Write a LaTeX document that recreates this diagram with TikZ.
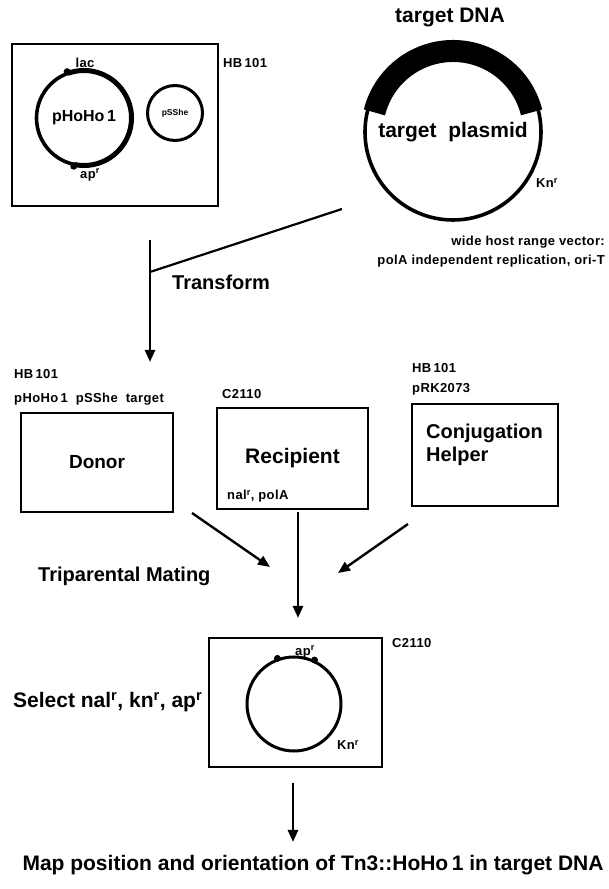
\documentclass[tikz,border=0pt]{standalone}
\usepackage{fontspec}
\setmainfont{Liberation Sans}
\usetikzlibrary{arrows.meta}

\newcommand{\fs}[1]{\fontsize{#1}{#1}\selectfont\bfseries}
\newcommand{\sm}{\fontsize{13}{13}\selectfont\bfseries\addfontfeatures{LetterSpace=3}}
\newcommand{\rs}{\textsuperscript{r}}

\begin{document}
\begin{tikzpicture}[x=1pt, y=1pt,
  hostbox/.style={draw, line width=2.6pt, inner sep=0pt},
  plasmid/.style={draw, circle, line width=3pt, inner sep=0pt},
  marker/.style={circle, fill, inner sep=0pt, minimum size=7pt},
  lbl/.style={inner sep=0pt, font=\sm},
  flow/.style={line width=2.4pt, -{Triangle[length=12pt,width=10pt]}}]
\useasboundingbox (0,0) rectangle (609,889);

% host cell with pHoHo1 and pSShe
\node (hosta) [hostbox, minimum width=206, minimum height=162] at (115,764) {};
\node (hostalbl) [lbl, anchor=west] at (223,826) {HB\,101};
\node (pho) [plasmid, line width=3.6pt, minimum size=95] at (84,771) {\fs{16}pHoHo\,1};
\draw [line width=5pt] ([shift={(-102:47.5)}]pho.center) arc [start angle=-102, end angle=110, radius=47.5];
\node (lacdot) [marker] at (pho.110) {};
\node (apdot) [marker] at (pho.-102) {};
\node (lac) [lbl] at (85,826) {lac};
\node (ap) [lbl] at (90,714) {ap\rs};
\node (pss) [plasmid, minimum size=55] at (175,776) {\fs{8.5}pSShe};

% target plasmid
\node (tp) [plasmid, line width=3.6pt, minimum size=176] at (453,757) {\fs{21}target\ \ plasmid};
\draw [line width=22pt] ([shift={(14:81)}]tp.center) arc [start angle=14, end angle=166, radius=81];
\node (tdna) [lbl, font=\fs{21}] at (450,871) {target DNA};
\node (kn) [lbl, anchor=west] at (536,706) {Kn\rs};
\node (vec1) [lbl, anchor=east] at (605,647) {wide host range vector:};
\node (vec2) [lbl, anchor=east] at (605,628) {polA independent replication, ori-T};

% transformation
\coordinate (tfree) at (342,680);
\coordinate (tjoin) at (150,617);
\coordinate (tstart) at (150,649);
\coordinate (tend) at (150,527);
\draw [line width=2.2pt] (tfree) -- (tjoin);
\draw [flow] (tstart) -- (tend);
\node (transform) [lbl, font=\fs{20}, anchor=west] at (172,607) {Transform};

% the three strains
\node (donor) [hostbox, minimum width=152, minimum height=99] at (97,426.5) {\fs{19}Donor};
\node (donorlbl1) [lbl, anchor=west] at (14,515) {HB\,101};
\node (donorlbl2) [lbl, anchor=west] at (14,490) {pHoHo\,1\ \ pSShe\ \ target};

\node (recip) [hostbox, minimum width=151, minimum height=101] at (292.5,430.5) {\fs{21}Recipient};
\node (reciplbl) [lbl, anchor=west] at (222,495) {C2110};
\node (recipmark) [lbl, anchor=west] at (227,393) {nal\rs, polA};

\node (helper) [hostbox, minimum width=146, minimum height=102] at (485,434) {};
\node (helpertxt) [anchor=west, align=left, inner sep=0pt, font=\fs{20}] at (426,444) {Conjugation\\[3pt]Helper};
\node (helperlbl1) [lbl, anchor=west] at (412,521) {HB\,101};
\node (helperlbl2) [lbl, anchor=west] at (412,500) {pRK2073};

% mating
\coordinate (ma) at (192,376);
\coordinate (mb) at (270,322);
\coordinate (mc) at (298,377);
\coordinate (md) at (298,271);
\coordinate (me) at (408,365);
\coordinate (mf) at (338,316);
\draw [flow] (ma) -- (mb);
\draw [flow] (mc) -- (md);
\draw [flow] (me) -- (mf);
\node (mating) [lbl, font=\fs{20}, anchor=west] at (38,313) {Triparental Mating};

% selection
\node (hostb) [hostbox, minimum width=173, minimum height=129] at (295.5,186.5) {};
\node (hostblbl) [lbl, anchor=west] at (392,246) {C2110};
\node (tpb) [plasmid, minimum size=94] at (294,185) {};
\node (mdot1) [marker] at (tpb.110) {};
\node (mdot2) [marker] at (tpb.65) {};
\node (apb) [lbl] at (305,237) {ap\rs};
\node (knb) [lbl] at (348,144) {Kn\rs};
\node (select) [lbl, font=\fs{21}, anchor=west] at (13,187) {Select nal\rs, kn\rs, ap\rs};

% mapping
\coordinate (mapstart) at (293,106);
\coordinate (mapend) at (293,47);
\draw [flow] (mapstart) -- (mapend);
\node (map) [lbl, font=\fs{21}] at (313,24) {Map position and orientation of Tn3::HoHo\,1 in target DNA};
\end{tikzpicture}
\end{document}
